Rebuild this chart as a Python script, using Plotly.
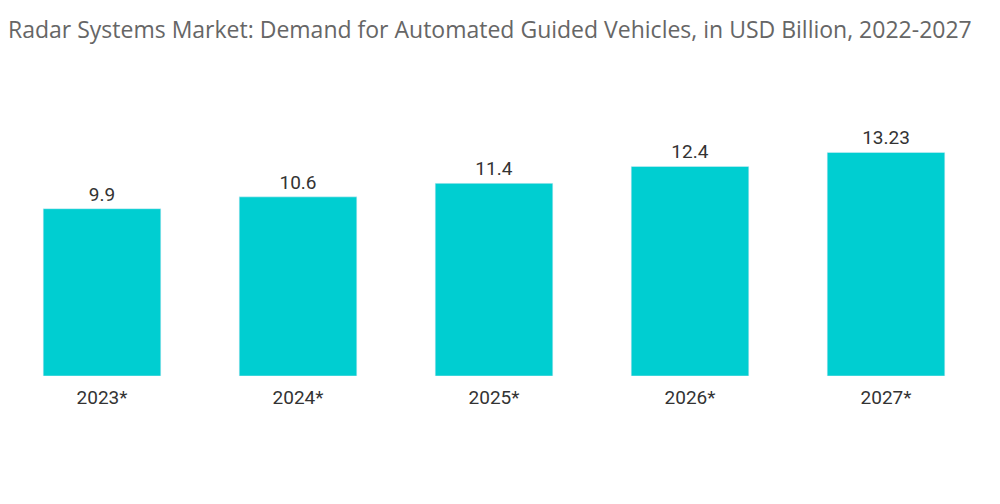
import plotly.graph_objects as go

categories = ["2023*", "2024*", "2025*", "2026*", "2027*"]
values = [9.9, 10.6, 11.4, 12.4, 13.23]
value_labels = ["9.9", "10.6", "11.4", "12.4", "13.23"]

fig = go.Figure(go.Bar(
    x=categories, y=values, text=value_labels, textposition="outside",
    marker_color="#00CED1", width=0.6, cliponaxis=False,
    textfont=dict(family="Roboto", size=19, color="#333333"),
))
fig.update_layout(
    width=1000, height=504,
    margin=dict(l=4, r=16, t=100, b=128),
    paper_bgcolor="white", plot_bgcolor="white",
    title=dict(text="Radar Systems Market: Demand for Automated Guided Vehicles, in USD Billion, 2022-2027",
               x=0.008, xanchor="left", y=0.94, yanchor="middle",
               font=dict(family="Open Sans", size=23, color="#666666")),
    xaxis=dict(showline=False, ticks="", ticklabelstandoff=8,
               tickfont=dict(family="Roboto", size=19, color="#333333")),
    yaxis=dict(visible=False, range=[0, 16.33]),
    bargap=0.4, showlegend=False,
)
fig.write_html("out.html", config={"displayModeBar": False},
               post_script="document.body.style.margin='0';")
